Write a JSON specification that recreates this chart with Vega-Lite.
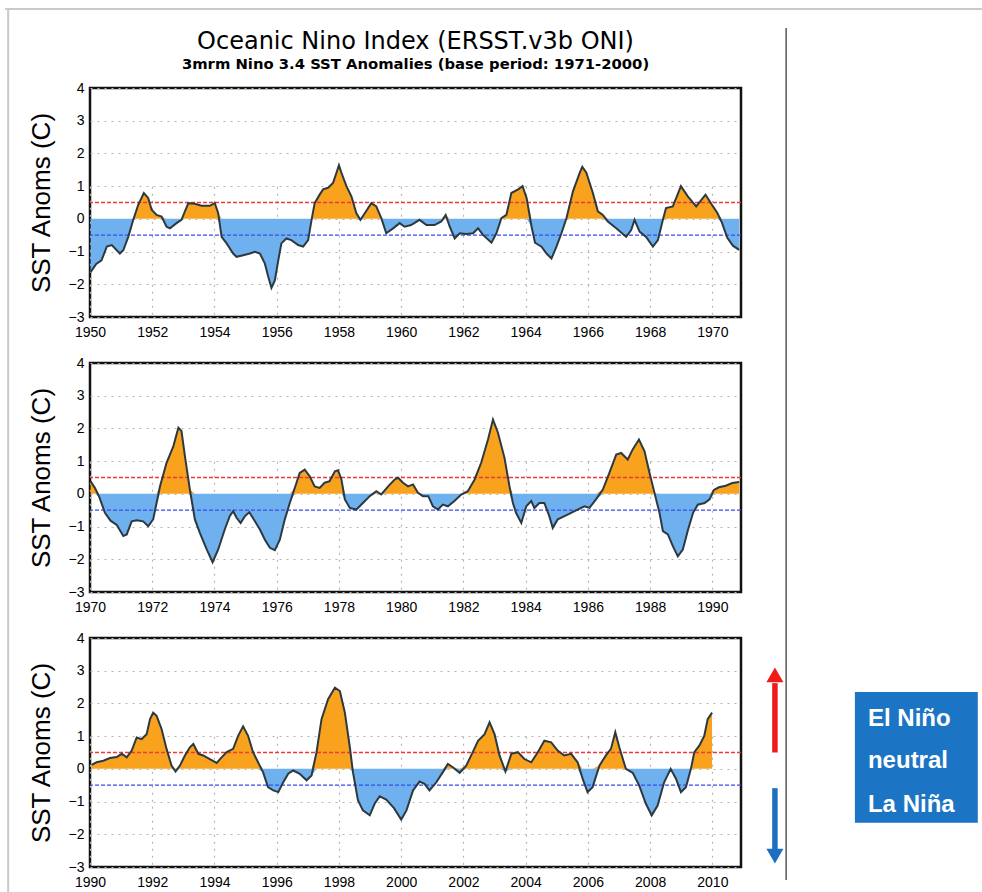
{
  "$schema": "https://vega.github.io/schema/vega-lite/v6.json",
  "background": "white",
  "padding": {"left": 2, "top": 6, "right": 0, "bottom": 0},
  "autosize": {"type": "pad"},
  "config": {
    "font": "Liberation Sans",
    "view": {"stroke": "#111111", "strokeWidth": 2.5},
    "axis": {
      "labelFont": "Liberation Sans",
      "labelFontSize": 14,
      "labelColor": "#000000",
      "ticks": false,
      "domain": false,
      "gridColor": "#b5b5b5",
      "gridDash": [2, 5],
      "gridWidth": 1.2,
      "titleFont": "Liberation Sans",
      "titleFontSize": 26,
      "titleFontWeight": "normal",
      "titleColor": "#000000"
    }
  },
  "datasets": {
    "oni": [
      {"t": 1950.02, "v": -1.63}, {"t": 1950.2, "v": -1.38}, {"t": 1950.37, "v": -1.27}, {"t": 1950.54, "v": -0.85},
      {"t": 1950.7, "v": -0.8}, {"t": 1950.96, "v": -1.06}, {"t": 1951.07, "v": -0.96}, {"t": 1951.23, "v": -0.55},
      {"t": 1951.39, "v": -0.03}, {"t": 1951.55, "v": 0.43}, {"t": 1951.73, "v": 0.79}, {"t": 1951.87, "v": 0.64},
      {"t": 1951.98, "v": 0.28}, {"t": 1952.14, "v": 0.12}, {"t": 1952.3, "v": 0.07}, {"t": 1952.46, "v": -0.24},
      {"t": 1952.57, "v": -0.29}, {"t": 1952.78, "v": -0.13}, {"t": 1952.94, "v": -0.03}, {"t": 1953.05, "v": 0.23},
      {"t": 1953.16, "v": 0.48}, {"t": 1953.37, "v": 0.46}, {"t": 1953.58, "v": 0.4}, {"t": 1953.85, "v": 0.4},
      {"t": 1954.01, "v": 0.48}, {"t": 1954.12, "v": 0.17}, {"t": 1954.23, "v": -0.55}, {"t": 1954.39, "v": -0.75},
      {"t": 1954.6, "v": -1.06}, {"t": 1954.71, "v": -1.16}, {"t": 1954.92, "v": -1.11}, {"t": 1955.14, "v": -1.06},
      {"t": 1955.3, "v": -1.01}, {"t": 1955.46, "v": -1.06}, {"t": 1955.62, "v": -1.37}, {"t": 1955.73, "v": -1.78},
      {"t": 1955.83, "v": -2.11}, {"t": 1955.94, "v": -1.88}, {"t": 1956.05, "v": -1.27}, {"t": 1956.15, "v": -0.75},
      {"t": 1956.31, "v": -0.6}, {"t": 1956.47, "v": -0.65}, {"t": 1956.69, "v": -0.8}, {"t": 1956.85, "v": -0.85},
      {"t": 1957.01, "v": -0.65}, {"t": 1957.12, "v": -0.03}, {"t": 1957.22, "v": 0.48}, {"t": 1957.38, "v": 0.74},
      {"t": 1957.49, "v": 0.9}, {"t": 1957.65, "v": 0.95}, {"t": 1957.81, "v": 1.1}, {"t": 1957.92, "v": 1.41},
      {"t": 1958.0, "v": 1.64}, {"t": 1958.08, "v": 1.41}, {"t": 1958.24, "v": 1.0}, {"t": 1958.4, "v": 0.69},
      {"t": 1958.56, "v": 0.17}, {"t": 1958.69, "v": -0.03}, {"t": 1958.83, "v": 0.17}, {"t": 1959.04, "v": 0.48},
      {"t": 1959.2, "v": 0.38}, {"t": 1959.36, "v": 0.02}, {"t": 1959.52, "v": -0.44}, {"t": 1959.74, "v": -0.29},
      {"t": 1959.95, "v": -0.13}, {"t": 1960.11, "v": -0.24}, {"t": 1960.32, "v": -0.19}, {"t": 1960.59, "v": -0.03},
      {"t": 1960.81, "v": -0.19}, {"t": 1961.07, "v": -0.19}, {"t": 1961.29, "v": -0.08}, {"t": 1961.43, "v": 0.12},
      {"t": 1961.56, "v": -0.24}, {"t": 1961.72, "v": -0.6}, {"t": 1961.88, "v": -0.44}, {"t": 1962.09, "v": -0.46},
      {"t": 1962.31, "v": -0.44}, {"t": 1962.47, "v": -0.29}, {"t": 1962.63, "v": -0.49}, {"t": 1962.9, "v": -0.73},
      {"t": 1963.06, "v": -0.44}, {"t": 1963.22, "v": 0.02}, {"t": 1963.38, "v": 0.12}, {"t": 1963.54, "v": 0.79},
      {"t": 1963.76, "v": 0.9}, {"t": 1963.9, "v": 1.0}, {"t": 1964.03, "v": 0.64}, {"t": 1964.19, "v": -0.24},
      {"t": 1964.3, "v": -0.73}, {"t": 1964.51, "v": -0.85}, {"t": 1964.67, "v": -1.06}, {"t": 1964.83, "v": -1.21},
      {"t": 1964.99, "v": -0.85}, {"t": 1965.15, "v": -0.44}, {"t": 1965.31, "v": 0.02}, {"t": 1965.52, "v": 0.84},
      {"t": 1965.74, "v": 1.41}, {"t": 1965.82, "v": 1.59}, {"t": 1965.95, "v": 1.41}, {"t": 1966.16, "v": 0.79},
      {"t": 1966.32, "v": 0.23}, {"t": 1966.48, "v": 0.12}, {"t": 1966.64, "v": -0.08}, {"t": 1966.91, "v": -0.29},
      {"t": 1967.23, "v": -0.55}, {"t": 1967.39, "v": -0.34}, {"t": 1967.5, "v": -0.03}, {"t": 1967.66, "v": -0.39},
      {"t": 1967.87, "v": -0.55}, {"t": 1968.09, "v": -0.85}, {"t": 1968.25, "v": -0.65}, {"t": 1968.41, "v": -0.03},
      {"t": 1968.51, "v": 0.33}, {"t": 1968.73, "v": 0.38}, {"t": 1968.99, "v": 1.0}, {"t": 1969.21, "v": 0.69},
      {"t": 1969.48, "v": 0.38}, {"t": 1969.78, "v": 0.74}, {"t": 1970.02, "v": 0.38}, {"t": 1970.16, "v": 0.18},
      {"t": 1970.3, "v": -0.1}, {"t": 1970.48, "v": -0.58}, {"t": 1970.66, "v": -0.82}, {"t": 1970.86, "v": -0.95},
      {"t": 1971.07, "v": -1.29}, {"t": 1971.18, "v": -1.24}, {"t": 1971.34, "v": -0.84}, {"t": 1971.5, "v": -0.81},
      {"t": 1971.71, "v": -0.84}, {"t": 1971.87, "v": -0.99}, {"t": 1972.03, "v": -0.78}, {"t": 1972.14, "v": -0.28},
      {"t": 1972.25, "v": 0.23}, {"t": 1972.46, "v": 0.95}, {"t": 1972.68, "v": 1.46}, {"t": 1972.84, "v": 2.02},
      {"t": 1972.94, "v": 1.92}, {"t": 1973.05, "v": 1.15}, {"t": 1973.21, "v": 0.13}, {"t": 1973.37, "v": -0.78},
      {"t": 1973.53, "v": -1.19}, {"t": 1973.75, "v": -1.7}, {"t": 1973.94, "v": -2.09}, {"t": 1974.12, "v": -1.7},
      {"t": 1974.33, "v": -1.09}, {"t": 1974.49, "v": -0.68}, {"t": 1974.6, "v": -0.53}, {"t": 1974.71, "v": -0.73},
      {"t": 1974.84, "v": -0.89}, {"t": 1974.98, "v": -0.68}, {"t": 1975.12, "v": -0.56}, {"t": 1975.3, "v": -0.84},
      {"t": 1975.46, "v": -1.09}, {"t": 1975.62, "v": -1.4}, {"t": 1975.78, "v": -1.65}, {"t": 1975.94, "v": -1.72},
      {"t": 1976.1, "v": -1.4}, {"t": 1976.26, "v": -0.78}, {"t": 1976.42, "v": -0.28}, {"t": 1976.58, "v": 0.18},
      {"t": 1976.74, "v": 0.64}, {"t": 1976.9, "v": 0.74}, {"t": 1977.06, "v": 0.54}, {"t": 1977.22, "v": 0.23},
      {"t": 1977.38, "v": 0.18}, {"t": 1977.54, "v": 0.34}, {"t": 1977.7, "v": 0.39}, {"t": 1977.87, "v": 0.69},
      {"t": 1977.97, "v": 0.72}, {"t": 1978.08, "v": 0.44}, {"t": 1978.19, "v": -0.17}, {"t": 1978.35, "v": -0.43},
      {"t": 1978.56, "v": -0.48}, {"t": 1978.77, "v": -0.28}, {"t": 1978.99, "v": -0.07}, {"t": 1979.2, "v": 0.08},
      {"t": 1979.36, "v": -0.02}, {"t": 1979.58, "v": 0.23}, {"t": 1979.79, "v": 0.44}, {"t": 1979.9, "v": 0.49},
      {"t": 1980.06, "v": 0.34}, {"t": 1980.22, "v": 0.23}, {"t": 1980.38, "v": 0.29}, {"t": 1980.54, "v": 0.03},
      {"t": 1980.7, "v": -0.07}, {"t": 1980.87, "v": -0.07}, {"t": 1981.02, "v": -0.38}, {"t": 1981.18, "v": -0.48},
      {"t": 1981.34, "v": -0.33}, {"t": 1981.5, "v": -0.38}, {"t": 1981.71, "v": -0.22}, {"t": 1981.93, "v": -0.02},
      {"t": 1982.14, "v": 0.08}, {"t": 1982.36, "v": 0.44}, {"t": 1982.57, "v": 0.95}, {"t": 1982.79, "v": 1.66},
      {"t": 1982.95, "v": 2.27}, {"t": 1983.11, "v": 1.87}, {"t": 1983.32, "v": 1.1}, {"t": 1983.48, "v": 0.23},
      {"t": 1983.59, "v": -0.28}, {"t": 1983.69, "v": -0.58}, {"t": 1983.86, "v": -0.89}, {"t": 1984.02, "v": -0.38},
      {"t": 1984.18, "v": -0.22}, {"t": 1984.28, "v": -0.43}, {"t": 1984.44, "v": -0.28}, {"t": 1984.6, "v": -0.28},
      {"t": 1984.76, "v": -0.68}, {"t": 1984.87, "v": -1.04}, {"t": 1985.03, "v": -0.78}, {"t": 1985.25, "v": -0.68},
      {"t": 1985.46, "v": -0.58}, {"t": 1985.67, "v": -0.48}, {"t": 1985.89, "v": -0.38}, {"t": 1986.05, "v": -0.43},
      {"t": 1986.26, "v": -0.17}, {"t": 1986.48, "v": 0.13}, {"t": 1986.69, "v": 0.64}, {"t": 1986.91, "v": 1.2},
      {"t": 1987.07, "v": 1.25}, {"t": 1987.28, "v": 1.05}, {"t": 1987.44, "v": 1.36}, {"t": 1987.64, "v": 1.66},
      {"t": 1987.82, "v": 1.3}, {"t": 1987.98, "v": 0.64}, {"t": 1988.14, "v": 0.03}, {"t": 1988.3, "v": -0.58},
      {"t": 1988.41, "v": -1.14}, {"t": 1988.57, "v": -1.24}, {"t": 1988.73, "v": -1.6}, {"t": 1988.89, "v": -1.91},
      {"t": 1989.05, "v": -1.7}, {"t": 1989.22, "v": -1.09}, {"t": 1989.38, "v": -0.58}, {"t": 1989.53, "v": -0.33},
      {"t": 1989.75, "v": -0.28}, {"t": 1989.91, "v": -0.17}, {"t": 1990.05, "v": 0.12}, {"t": 1990.21, "v": 0.2},
      {"t": 1990.43, "v": 0.25}, {"t": 1990.64, "v": 0.33}, {"t": 1990.86, "v": 0.36}, {"t": 1991.02, "v": 0.46},
      {"t": 1991.18, "v": 0.35}, {"t": 1991.34, "v": 0.56}, {"t": 1991.5, "v": 0.96}, {"t": 1991.66, "v": 0.91},
      {"t": 1991.82, "v": 1.06}, {"t": 1991.93, "v": 1.52}, {"t": 1992.03, "v": 1.72}, {"t": 1992.14, "v": 1.62},
      {"t": 1992.3, "v": 1.22}, {"t": 1992.46, "v": 0.61}, {"t": 1992.62, "v": 0.1}, {"t": 1992.75, "v": -0.08},
      {"t": 1992.89, "v": 0.1}, {"t": 1993.05, "v": 0.41}, {"t": 1993.21, "v": 0.66}, {"t": 1993.32, "v": 0.76},
      {"t": 1993.48, "v": 0.46}, {"t": 1993.64, "v": 0.41}, {"t": 1993.85, "v": 0.3}, {"t": 1994.07, "v": 0.18},
      {"t": 1994.23, "v": 0.35}, {"t": 1994.39, "v": 0.51}, {"t": 1994.6, "v": 0.61}, {"t": 1994.76, "v": 1.01},
      {"t": 1994.92, "v": 1.3}, {"t": 1995.08, "v": 1.01}, {"t": 1995.24, "v": 0.51}, {"t": 1995.4, "v": 0.2},
      {"t": 1995.56, "v": -0.1}, {"t": 1995.72, "v": -0.56}, {"t": 1995.89, "v": -0.66}, {"t": 1996.05, "v": -0.71},
      {"t": 1996.21, "v": -0.41}, {"t": 1996.37, "v": -0.15}, {"t": 1996.53, "v": -0.05}, {"t": 1996.74, "v": -0.15},
      {"t": 1996.96, "v": -0.35}, {"t": 1997.12, "v": -0.2}, {"t": 1997.28, "v": 0.51}, {"t": 1997.44, "v": 1.52},
      {"t": 1997.65, "v": 2.13}, {"t": 1997.87, "v": 2.48}, {"t": 1998.03, "v": 2.38}, {"t": 1998.19, "v": 1.72},
      {"t": 1998.35, "v": 0.66}, {"t": 1998.45, "v": -0.1}, {"t": 1998.61, "v": -0.96}, {"t": 1998.77, "v": -1.27},
      {"t": 1998.99, "v": -1.42}, {"t": 1999.15, "v": -1.06}, {"t": 1999.31, "v": -0.84}, {"t": 1999.52, "v": -0.94},
      {"t": 1999.77, "v": -1.2}, {"t": 2000.0, "v": -1.55}, {"t": 2000.17, "v": -1.27}, {"t": 2000.38, "v": -0.66},
      {"t": 2000.59, "v": -0.39}, {"t": 2000.75, "v": -0.46}, {"t": 2000.91, "v": -0.66}, {"t": 2001.13, "v": -0.41},
      {"t": 2001.34, "v": -0.1}, {"t": 2001.5, "v": 0.15}, {"t": 2001.66, "v": 0.05}, {"t": 2001.88, "v": -0.12},
      {"t": 2002.09, "v": 0.1}, {"t": 2002.3, "v": 0.51}, {"t": 2002.47, "v": 0.86}, {"t": 2002.68, "v": 1.06},
      {"t": 2002.84, "v": 1.42}, {"t": 2003.0, "v": 1.06}, {"t": 2003.16, "v": 0.41}, {"t": 2003.35, "v": -0.08},
      {"t": 2003.54, "v": 0.46}, {"t": 2003.75, "v": 0.51}, {"t": 2003.96, "v": 0.3}, {"t": 2004.18, "v": 0.2},
      {"t": 2004.39, "v": 0.51}, {"t": 2004.6, "v": 0.86}, {"t": 2004.82, "v": 0.81}, {"t": 2005.03, "v": 0.56},
      {"t": 2005.24, "v": 0.41}, {"t": 2005.46, "v": 0.46}, {"t": 2005.67, "v": 0.2}, {"t": 2005.83, "v": -0.3},
      {"t": 2005.99, "v": -0.71}, {"t": 2006.15, "v": -0.56}, {"t": 2006.37, "v": 0.1}, {"t": 2006.58, "v": 0.41},
      {"t": 2006.74, "v": 0.61}, {"t": 2006.88, "v": 1.12}, {"t": 2007.01, "v": 0.66}, {"t": 2007.22, "v": 0.0},
      {"t": 2007.44, "v": -0.12}, {"t": 2007.65, "v": -0.51}, {"t": 2007.86, "v": -1.06}, {"t": 2008.05, "v": -1.42},
      {"t": 2008.24, "v": -1.12}, {"t": 2008.45, "v": -0.41}, {"t": 2008.66, "v": 0.0}, {"t": 2008.83, "v": -0.3},
      {"t": 2008.99, "v": -0.71}, {"t": 2009.15, "v": -0.56}, {"t": 2009.31, "v": 0.0}, {"t": 2009.42, "v": 0.51},
      {"t": 2009.58, "v": 0.71}, {"t": 2009.74, "v": 1.01}, {"t": 2009.85, "v": 1.52}, {"t": 2009.99, "v": 1.72}
    ],
    "frame": [
      {"x": 1987.27, "x2": 2018.66, "y": 23.23, "y2": 23.23},
      {"x": 1987.37, "x2": 1987.37, "y": 23.23, "y2": -3.9}
    ],
    "divider": [{"x": 2012.37, "y": 22.65, "y2": -3.4}],
    "arrows": [
      {"phase": "El Niño", "x": 2012.01, "y": 0.5, "y2": 2.62, "hy": 2.87},
      {"phase": "La Niña", "x": 2012.01, "y": -0.59, "y2": -2.45, "hy": -2.67}
    ],
    "box": [{"x": 2014.58, "x2": 2018.53, "y": 2.35, "y2": -1.65}],
    "labels": [
      {"x": 2015.0, "y": 1.31, "label": "El Niño"},
      {"x": 2015.0, "y": 0.03, "label": "neutral"},
      {"x": 2015.0, "y": -1.32, "label": "La Niña"}
    ]
  },
  "vconcat": [
    {
      "width": 651,
      "height": 229,
      "title": {
        "text": "Oceanic Nino Index (ERSST.v3b ONI)",
        "subtitle": "3mrm Nino 3.4 SST Anomalies (base period: 1971-2000)",
        "anchor": "middle",
        "frame": "group",
        "font": "DejaVu Sans",
        "fontSize": 24,
        "fontWeight": "normal",
        "color": "#000000",
        "subtitleFont": "DejaVu Sans",
        "subtitleFontSize": 14.8,
        "subtitleFontWeight": "bold",
        "subtitleColor": "#000000",
        "subtitlePadding": 3,
        "offset": 9
      },
      "data": {"name": "oni"},
      "layer": [
        {
          "transform": [{"filter": "datum.t <= 1971"}],
          "mark": {"type": "area", "color": "#f9a21e"},
          "encoding": {
            "x": {"field": "t", "type": "quantitative", "scale": {"domain": [1950, 1970.92], "nice": false, "zero": false},
                  "axis": {"values": [1950, 1952, 1954, 1956, 1958, 1960, 1962, 1964, 1966, 1968, 1970], "format": "d", "grid": true, "title": null, "labelFlush": false, "labelPadding": 8}},
            "y": {"field": "v", "type": "quantitative", "scale": {"domain": [0, 4], "range": [130.857, 0], "clamp": true, "nice": false, "zero": false}, "axis": null},
            "y2": {"datum": 0}
          }
        },
        {
          "transform": [{"filter": "datum.t <= 1971"}],
          "mark": {"type": "area", "color": "#6fb0ef"},
          "encoding": {
            "x": {"field": "t", "type": "quantitative", "scale": {"domain": [1950, 1970.92], "nice": false, "zero": false},
                  "axis": {"values": [1950, 1952, 1954, 1956, 1958, 1960, 1962, 1964, 1966, 1968, 1970], "format": "d", "grid": true, "title": null, "labelFlush": false, "labelPadding": 8}},
            "y": {"field": "v", "type": "quantitative", "scale": {"domain": [-3, 0], "range": [229, 130.857], "clamp": true, "nice": false, "zero": false}, "axis": null},
            "y2": {"datum": 0}
          }
        },
        {
          "layer": [
            {
              "data": {"values": [{}]},
              "mark": {"type": "rule", "color": "#ec3a3a", "strokeWidth": 1.3, "strokeDash": [4, 2]},
              "encoding": {"y": {"datum": 0.5, "type": "quantitative", "scale": {"domain": [-3, 4], "nice": false, "zero": false},
                                 "axis": {"values": [-3, -2, -1, 0, 1, 2, 3, 4], "title": "SST Anoms (C)", "grid": true, "labelPadding": 6, "titlePadding": 14}}}
            },
            {
              "data": {"values": [{}]},
              "mark": {"type": "rule", "color": "#3a4cec", "strokeWidth": 1.3, "strokeDash": [4, 2]},
              "encoding": {"y": {"datum": -0.5, "type": "quantitative", "scale": {"domain": [-3, 4], "nice": false, "zero": false},
                                 "axis": {"values": [-3, -2, -1, 0, 1, 2, 3, 4], "title": "SST Anoms (C)", "grid": true, "labelPadding": 6, "titlePadding": 14}}}
            },
            {
              "transform": [{"filter": "datum.t <= 1971"}],
              "mark": {"type": "line", "color": "#2c3a40", "strokeWidth": 2},
              "encoding": {
                "x": {"field": "t", "type": "quantitative", "scale": {"domain": [1950, 1970.92], "nice": false, "zero": false},
                      "axis": {"values": [1950, 1952, 1954, 1956, 1958, 1960, 1962, 1964, 1966, 1968, 1970], "format": "d", "grid": true, "title": null, "labelFlush": false, "labelPadding": 8}},
                "y": {"field": "v", "type": "quantitative", "scale": {"domain": [-3, 4], "nice": false, "zero": false},
                      "axis": {"values": [-3, -2, -1, 0, 1, 2, 3, 4], "title": "SST Anoms (C)", "grid": true, "labelPadding": 6, "titlePadding": 14}}
              }
            }
          ]
        }
      ],
      "resolve": {"scale": {"y": "independent"}}
    },
    {
      "width": 651,
      "height": 229,
      "data": {"name": "oni"},
      "layer": [
        {
          "transform": [{"filter": "datum.t >= 1969.99 && datum.t <= 1991"}],
          "mark": {"type": "area", "color": "#f9a21e"},
          "encoding": {
            "x": {"field": "t", "type": "quantitative", "scale": {"domain": [1970, 1990.92], "nice": false, "zero": false},
                  "axis": {"values": [1970, 1972, 1974, 1976, 1978, 1980, 1982, 1984, 1986, 1988, 1990], "format": "d", "grid": true, "title": null, "labelFlush": false, "labelPadding": 8}},
            "y": {"field": "v", "type": "quantitative", "scale": {"domain": [0, 4], "range": [130.857, 0], "clamp": true, "nice": false, "zero": false}, "axis": null},
            "y2": {"datum": 0}
          }
        },
        {
          "transform": [{"filter": "datum.t >= 1969.99 && datum.t <= 1991"}],
          "mark": {"type": "area", "color": "#6fb0ef"},
          "encoding": {
            "x": {"field": "t", "type": "quantitative", "scale": {"domain": [1970, 1990.92], "nice": false, "zero": false},
                  "axis": {"values": [1970, 1972, 1974, 1976, 1978, 1980, 1982, 1984, 1986, 1988, 1990], "format": "d", "grid": true, "title": null, "labelFlush": false, "labelPadding": 8}},
            "y": {"field": "v", "type": "quantitative", "scale": {"domain": [-3, 0], "range": [229, 130.857], "clamp": true, "nice": false, "zero": false}, "axis": null},
            "y2": {"datum": 0}
          }
        },
        {
          "layer": [
            {
              "data": {"values": [{}]},
              "mark": {"type": "rule", "color": "#ec3a3a", "strokeWidth": 1.3, "strokeDash": [4, 2]},
              "encoding": {"y": {"datum": 0.5, "type": "quantitative", "scale": {"domain": [-3, 4], "nice": false, "zero": false},
                                 "axis": {"values": [-3, -2, -1, 0, 1, 2, 3, 4], "title": "SST Anoms (C)", "grid": true, "labelPadding": 6, "titlePadding": 14}}}
            },
            {
              "data": {"values": [{}]},
              "mark": {"type": "rule", "color": "#3a4cec", "strokeWidth": 1.3, "strokeDash": [4, 2]},
              "encoding": {"y": {"datum": -0.5, "type": "quantitative", "scale": {"domain": [-3, 4], "nice": false, "zero": false},
                                 "axis": {"values": [-3, -2, -1, 0, 1, 2, 3, 4], "title": "SST Anoms (C)", "grid": true, "labelPadding": 6, "titlePadding": 14}}}
            },
            {
              "transform": [{"filter": "datum.t >= 1969.99 && datum.t <= 1991"}],
              "mark": {"type": "line", "color": "#2c3a40", "strokeWidth": 2},
              "encoding": {
                "x": {"field": "t", "type": "quantitative", "scale": {"domain": [1970, 1990.92], "nice": false, "zero": false},
                      "axis": {"values": [1970, 1972, 1974, 1976, 1978, 1980, 1982, 1984, 1986, 1988, 1990], "format": "d", "grid": true, "title": null, "labelFlush": false, "labelPadding": 8}},
                "y": {"field": "v", "type": "quantitative", "scale": {"domain": [-3, 4], "nice": false, "zero": false},
                      "axis": {"values": [-3, -2, -1, 0, 1, 2, 3, 4], "title": "SST Anoms (C)", "grid": true, "labelPadding": 6, "titlePadding": 14}}
              }
            }
          ]
        }
      ],
      "resolve": {"scale": {"y": "independent"}}
    },
    {
      "width": 651,
      "height": 229,
      "data": {"name": "oni"},
      "layer": [
        {
          "transform": [{"filter": "datum.t >= 1990"}],
          "mark": {"type": "area", "color": "#f9a21e"},
          "encoding": {
            "x": {"field": "t", "type": "quantitative", "scale": {"domain": [1990, 2010.92], "nice": false, "zero": false},
                  "axis": {"values": [1990, 1992, 1994, 1996, 1998, 2000, 2002, 2004, 2006, 2008, 2010], "format": "d", "grid": true, "title": null, "labelFlush": false, "labelPadding": 8}},
            "y": {"field": "v", "type": "quantitative", "scale": {"domain": [0, 4], "range": [130.857, 0], "clamp": true, "nice": false, "zero": false}, "axis": null},
            "y2": {"datum": 0}
          }
        },
        {
          "transform": [{"filter": "datum.t >= 1990"}],
          "mark": {"type": "area", "color": "#6fb0ef"},
          "encoding": {
            "x": {"field": "t", "type": "quantitative", "scale": {"domain": [1990, 2010.92], "nice": false, "zero": false},
                  "axis": {"values": [1990, 1992, 1994, 1996, 1998, 2000, 2002, 2004, 2006, 2008, 2010], "format": "d", "grid": true, "title": null, "labelFlush": false, "labelPadding": 8}},
            "y": {"field": "v", "type": "quantitative", "scale": {"domain": [-3, 0], "range": [229, 130.857], "clamp": true, "nice": false, "zero": false}, "axis": null},
            "y2": {"datum": 0}
          }
        },
        {
          "layer": [
            {
              "data": {"values": [{}]},
              "mark": {"type": "rule", "color": "#ec3a3a", "strokeWidth": 1.3, "strokeDash": [4, 2]},
              "encoding": {"y": {"datum": 0.5, "type": "quantitative", "scale": {"domain": [-3, 4], "nice": false, "zero": false},
                                 "axis": {"values": [-3, -2, -1, 0, 1, 2, 3, 4], "title": "SST Anoms (C)", "grid": true, "labelPadding": 6, "titlePadding": 14}}}
            },
            {
              "data": {"values": [{}]},
              "mark": {"type": "rule", "color": "#3a4cec", "strokeWidth": 1.3, "strokeDash": [4, 2]},
              "encoding": {"y": {"datum": -0.5, "type": "quantitative", "scale": {"domain": [-3, 4], "nice": false, "zero": false},
                                 "axis": {"values": [-3, -2, -1, 0, 1, 2, 3, 4], "title": "SST Anoms (C)", "grid": true, "labelPadding": 6, "titlePadding": 14}}}
            },
            {
              "transform": [{"filter": "datum.t >= 1990"}],
              "mark": {"type": "line", "color": "#2c3a40", "strokeWidth": 2},
              "encoding": {
                "x": {"field": "t", "type": "quantitative", "scale": {"domain": [1990, 2010.92], "nice": false, "zero": false},
                      "axis": {"values": [1990, 1992, 1994, 1996, 1998, 2000, 2002, 2004, 2006, 2008, 2010], "format": "d", "grid": true, "title": null, "labelFlush": false, "labelPadding": 8}},
                "y": {"field": "v", "type": "quantitative", "scale": {"domain": [-3, 4], "nice": false, "zero": false},
                      "axis": {"values": [-3, -2, -1, 0, 1, 2, 3, 4], "title": "SST Anoms (C)", "grid": true, "labelPadding": 6, "titlePadding": 14}}
              }
            },
            {
              "data": {"name": "frame"},
              "mark": {"type": "rule", "color": "#c9c9c9", "strokeWidth": 2},
              "encoding": {
                "x": {"field": "x", "type": "quantitative", "scale": {"domain": [1990, 2010.92], "nice": false, "zero": false},
                      "axis": {"values": [1990, 1992, 1994, 1996, 1998, 2000, 2002, 2004, 2006, 2008, 2010], "format": "d", "grid": true, "title": null, "labelFlush": false, "labelPadding": 8}},
                "x2": {"field": "x2"},
                "y": {"field": "y", "type": "quantitative", "scale": {"domain": [-3, 4], "nice": false, "zero": false},
                      "axis": {"values": [-3, -2, -1, 0, 1, 2, 3, 4], "title": "SST Anoms (C)", "grid": true, "labelPadding": 6, "titlePadding": 14}},
                "y2": {"field": "y2"}
              }
            },
            {
              "data": {"name": "divider"},
              "mark": {"type": "rule", "color": "#555555", "strokeWidth": 1.5},
              "encoding": {
                "x": {"field": "x", "type": "quantitative", "scale": {"domain": [1990, 2010.92], "nice": false, "zero": false},
                      "axis": {"values": [1990, 1992, 1994, 1996, 1998, 2000, 2002, 2004, 2006, 2008, 2010], "format": "d", "grid": true, "title": null, "labelFlush": false, "labelPadding": 8}},
                "y": {"field": "y", "type": "quantitative", "scale": {"domain": [-3, 4], "nice": false, "zero": false},
                      "axis": {"values": [-3, -2, -1, 0, 1, 2, 3, 4], "title": "SST Anoms (C)", "grid": true, "labelPadding": 6, "titlePadding": 14}},
                "y2": {"field": "y2"}
              }
            },
            {
              "data": {"name": "arrows"},
              "mark": {"type": "rule", "strokeWidth": 5.5},
              "encoding": {
                "x": {"field": "x", "type": "quantitative", "scale": {"domain": [1990, 2010.92], "nice": false, "zero": false},
                      "axis": {"values": [1990, 1992, 1994, 1996, 1998, 2000, 2002, 2004, 2006, 2008, 2010], "format": "d", "grid": true, "title": null, "labelFlush": false, "labelPadding": 8}},
                "y": {"field": "y", "type": "quantitative", "scale": {"domain": [-3, 4], "nice": false, "zero": false},
                      "axis": {"values": [-3, -2, -1, 0, 1, 2, 3, 4], "title": "SST Anoms (C)", "grid": true, "labelPadding": 6, "titlePadding": 14}},
                "y2": {"field": "y2"},
                "color": {"field": "phase", "type": "nominal", "scale": {"domain": ["El Niño", "La Niña"], "range": ["#ef1b1b", "#1f6fc0"]}, "legend": null}
              }
            },
            {
              "data": {"name": "arrows"},
              "mark": {"type": "point", "filled": true, "opacity": 1, "size": 290},
              "encoding": {
                "x": {"field": "x", "type": "quantitative", "scale": {"domain": [1990, 2010.92], "nice": false, "zero": false},
                      "axis": {"values": [1990, 1992, 1994, 1996, 1998, 2000, 2002, 2004, 2006, 2008, 2010], "format": "d", "grid": true, "title": null, "labelFlush": false, "labelPadding": 8}},
                "y": {"field": "hy", "type": "quantitative", "scale": {"domain": [-3, 4], "nice": false, "zero": false},
                      "axis": {"values": [-3, -2, -1, 0, 1, 2, 3, 4], "title": "SST Anoms (C)", "grid": true, "labelPadding": 6, "titlePadding": 14}},
                "color": {"field": "phase", "type": "nominal", "scale": {"domain": ["El Niño", "La Niña"], "range": ["#ef1b1b", "#1f6fc0"]}, "legend": null},
                "shape": {"field": "phase", "type": "nominal", "scale": {"domain": ["El Niño", "La Niña"], "range": ["triangle-up", "triangle-down"]}, "legend": null}
              }
            },
            {
              "data": {"name": "box"},
              "mark": {"type": "rect", "color": "#1c75c4"},
              "encoding": {
                "x": {"field": "x", "type": "quantitative", "scale": {"domain": [1990, 2010.92], "nice": false, "zero": false},
                      "axis": {"values": [1990, 1992, 1994, 1996, 1998, 2000, 2002, 2004, 2006, 2008, 2010], "format": "d", "grid": true, "title": null, "labelFlush": false, "labelPadding": 8}},
                "x2": {"field": "x2"},
                "y": {"field": "y", "type": "quantitative", "scale": {"domain": [-3, 4], "nice": false, "zero": false},
                      "axis": {"values": [-3, -2, -1, 0, 1, 2, 3, 4], "title": "SST Anoms (C)", "grid": true, "labelPadding": 6, "titlePadding": 14}},
                "y2": {"field": "y2"}
              }
            },
            {
              "data": {"name": "labels"},
              "mark": {"type": "text", "align": "left", "baseline": "alphabetic", "font": "Liberation Sans", "fontSize": 24, "fontWeight": "bold", "color": "#ffffff"},
              "encoding": {
                "x": {"field": "x", "type": "quantitative", "scale": {"domain": [1990, 2010.92], "nice": false, "zero": false},
                      "axis": {"values": [1990, 1992, 1994, 1996, 1998, 2000, 2002, 2004, 2006, 2008, 2010], "format": "d", "grid": true, "title": null, "labelFlush": false, "labelPadding": 8}},
                "y": {"field": "y", "type": "quantitative", "scale": {"domain": [-3, 4], "nice": false, "zero": false},
                      "axis": {"values": [-3, -2, -1, 0, 1, 2, 3, 4], "title": "SST Anoms (C)", "grid": true, "labelPadding": 6, "titlePadding": 14}},
                "text": {"field": "label", "type": "nominal"}
              }
            }
          ]
        }
      ],
      "resolve": {"scale": {"y": "independent"}}
    }
  ],
  "spacing": 46,
  "bounds": "flush"
}
